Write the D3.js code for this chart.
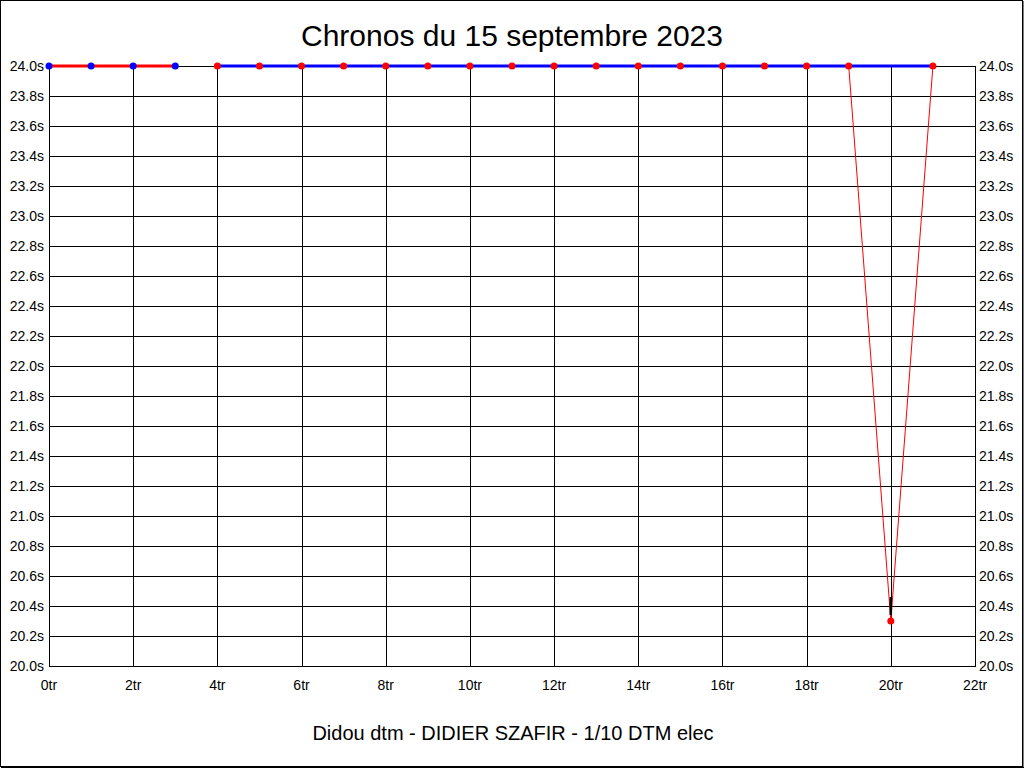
<!DOCTYPE html>
<html><head><meta charset="utf-8">
<script src="https://cdn.jsdelivr.net/npm/d3@7"></script>
<style>body{margin:0;background:#fff}svg{display:block;font-family:"Liberation Sans",Arial,sans-serif}</style>
</head><body>
<svg id="c" width="1024" height="768"></svg>
<script>
// ---- data ----
const title = "Chronos du 15 septembre 2023";
const subtitle = "Didou dtm - DIDIER SZAFIR - 1/10 DTM elec";
const xTicks = [0,2,4,6,8,10,12,14,16,18,20,22];
const yTicks = [20.0,20.2,20.4,20.6,20.8,21.0,21.2,21.4,21.6,21.8,22.0,22.2,22.4,22.6,22.8,23.0,23.2,23.4,23.6,23.8,24.0];
// stint 1 (laps 0-3), stint 2 (laps 4-21) -- displayed times (capped at 24.0s)
const stint1Laps = [0,1,2,3];
const stint1Times = [24.0,24.0,24.0,24.0];
const stint2Laps = [4,5,6,7,8,9,10,11,12,13,14,15,16,17,18,19,20,21];
const stint2Times = [24.0,24.0,24.0,24.0,24.0,24.0,24.0,24.0,24.0,24.0,24.0,24.0,24.0,24.0,24.0,24.0,20.3,24.0];
// thick trend line of stint 2
const trendLaps = [4,21];
const trendTimes = [24.0,24.0];
// short black mark at the best lap
const bestMarkLap = [20,20];
const bestMarkTimes = [20.46,20.34];

const svg = d3.select("#c");
const x = d3.scaleLinear().domain([0,22]).range([49,975]);
const y = d3.scaleLinear().domain([20,24]).range([666,66]);

// outer frame
svg.append("rect").attr("x",0.5).attr("y",0.5).attr("width",1022).attr("height",766)
  .attr("fill","none").attr("stroke","#000").attr("stroke-width",1);
svg.append("line").attr("x1",1023).attr("x2",1023).attr("y1",1).attr("y2",767).attr("stroke","#000").attr("stroke-width",1);
svg.append("line").attr("x1",1).attr("x2",1024).attr("y1",767.5).attr("y2",767.5).attr("stroke","#000").attr("stroke-width",1);

// grid
const g = svg.append("g").attr("shape-rendering","crispEdges");
g.selectAll(".gx").data(xTicks).join("line")
  .attr("x1",d=>Math.round(x(d))+0.5).attr("x2",d=>Math.round(x(d))+0.5)
  .attr("y1",y(24)).attr("y2",y(20)).attr("stroke","#000");
g.selectAll(".gy").data(yTicks).join("line")
  .attr("x1",x(0)).attr("x2",x(22)+1)
  .attr("y1",d=>Math.round(y(d))+0.5).attr("y2",d=>Math.round(y(d))+0.5).attr("stroke","#000");

// axis labels
const fmtY = d=>d.toFixed(1)+"s";
svg.selectAll(".yl").data(yTicks).join("text")
  .attr("x",44).attr("y",d=>y(d)+5).attr("text-anchor","end")
  .attr("font-size",14).text(fmtY);
svg.selectAll(".yr").data(yTicks).join("text")
  .attr("x",979).attr("y",d=>y(d)+5).attr("text-anchor","start")
  .attr("font-size",14).text(fmtY);
svg.selectAll(".xl").data(xTicks).join("text")
  .attr("x",d=>x(d)).attr("y",690).attr("text-anchor","middle")
  .attr("font-size",14).text(d=>d+"tr");

// titles
svg.append("text").attr("x",512).attr("y",46).attr("text-anchor","middle")
  .attr("font-size",30).text(title);
svg.append("text").attr("x",513).attr("y",740).attr("text-anchor","middle")
  .attr("font-size",20).text(subtitle);

const line = d3.line().x(d=>x(d[0])).y(d=>y(d[1]));
const zip = (a,b)=>a.map((v,i)=>[v,b[i]]);

// stint 2 thin path (red)
svg.append("path").datum(zip(stint2Laps,stint2Times)).attr("d",line)
  .attr("fill","none").attr("stroke","#f00").attr("stroke-width",1);
// stint 1 thick red
svg.append("path").datum(zip(stint1Laps,stint1Times)).attr("d",line)
  .attr("fill","none").attr("stroke","#f00").attr("stroke-width",3);
// stint 2 thick blue trend
svg.append("path").datum(zip(trendLaps,trendTimes)).attr("d",line)
  .attr("fill","none").attr("stroke","#00f").attr("stroke-width",3);
// best mark
svg.append("path").datum(zip(bestMarkLap,bestMarkTimes)).attr("d",line)
  .attr("fill","none").attr("stroke","#000").attr("stroke-width",2.5);

// dots
svg.selectAll(".d1").data(zip(stint1Laps,stint1Times)).join("circle")
  .attr("cx",d=>x(d[0])).attr("cy",d=>y(d[1])).attr("r",3.5).attr("fill","#00f");
svg.selectAll(".d2").data(zip(stint2Laps,stint2Times)).join("circle")
  .attr("cx",d=>x(d[0])).attr("cy",d=>y(d[1])).attr("r",3.5).attr("fill","#f00");
</script>
</body></html>
